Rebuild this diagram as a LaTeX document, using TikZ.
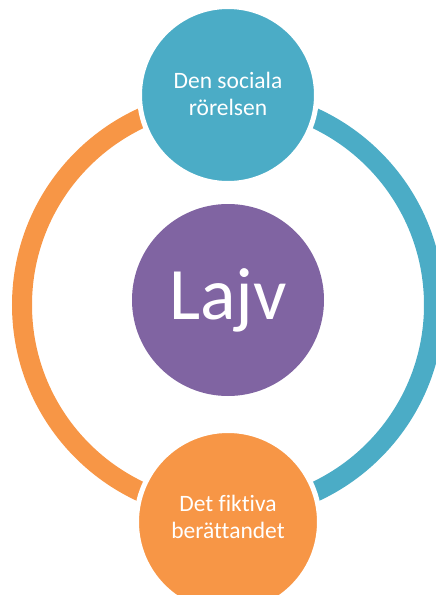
\documentclass[tikz,border=0pt]{standalone}
\usepackage{fontspec}
\setmainfont[RawFeature={-liga;-clig;-calt;-dlig}]{Carlito}
\definecolor{cteal}{HTML}{4BACC6}
\definecolor{corange}{HTML}{F79646}
\definecolor{cpurple}{HTML}{8064A2}
\begin{document}
\begin{tikzpicture}[x=1pt,y=-1pt,
  ringarc/.style={line width=20pt},
  satellite/.style={circle,inner sep=0pt,draw=white,line width=5pt},
  lbl/.style={text=white,align=center,font=\fontsize{23.5}{26.5}\selectfont}]
\useasboundingbox (0,0) rectangle (436,595);
\clip (0,0) rectangle (436,595);
% ring
\coordinate (rc) at (228,305);
\draw[ringarc,corange] (rc) ++(0,-206) arc[start angle=-90,end angle=-270,radius=206];
\draw[ringarc,cteal] (rc) ++(0,-206) arc[start angle=-90,end angle=90,radius=206];
% circles
\node[satellite,fill=cteal,minimum size=177pt] (top) at (228,95) {};
\node[satellite,fill=corange,minimum size=183pt] (bot) at (228,522) {};
\node[circle,inner sep=0pt,fill=cpurple,minimum size=192pt] (mid) at (228,300) {};
% labels
\node[lbl] (toplbl) at (228,94) {Den sociala\\rörelsen};
\node[lbl] (botlbl) at (228,517) {Det fiktiva\\berättandet};
\node[text=white,font=\fontsize{74}{80}\selectfont] (midlbl) at (228,300) {Lajv};
\end{tikzpicture}
\end{document}
